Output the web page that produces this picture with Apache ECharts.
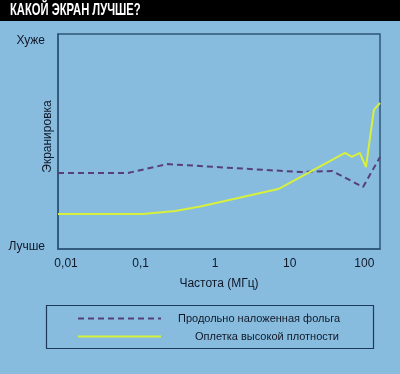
<!DOCTYPE html>
<html><head><meta charset="utf-8">
<script src="https://cdn.jsdelivr.net/npm/echarts@6/dist/echarts.min.js"></script>
<style>html,body{margin:0;padding:0;background:#88BCDF;}#c{width:400px;height:374px;}</style>
</head><body><div id="c"></div>
<script>
const titleText = 'КАКОЙ ЭКРАН ЛУЧШЕ?';
const seriesNames = ['Продольно наложенная фольга', 'Оплетка высокой плотности'];
const xTickLabels = ['0,01', '0,1', '1', '10', '100']; // exponents -2..2
const yTickLabels = ['Лучше', 'Хуже'];
const xAxisName = 'Частота (МГц)';
const yAxisName = 'Экранировка';
// [frequency MHz, relative shielding level 0..100]
const foilData = [[0.0078,35.3],[0.066,35.3],[0.23,39.5],[2.9,37.2],[14,35.8],[37,36.3],[96,28.8],[162,42.8]];
const braidData = [[0.0078,16.3],[0.108,16.3],[0.29,17.7],[0.63,19.8],[7,27.9],[55,44.7],[68,42.8],[87,44.7],[105,38.1],[134,64.7],[162,67.9]];

const FONT = '"Liberation Sans",Arial,sans-serif';
const chart = echarts.init(document.getElementById('c'));
chart.setOption({
  backgroundColor: '#88BCDF',
  animation: false,
  grid: {left: 58, right: 20, top: 34, bottom: 125, show: true, borderColor: '#2E5678', borderWidth: 1.5,
         containLabel: false, outerBoundsMode: 'none'},
  xAxis: {
    type: 'log', min: 0.0078, max: 162, logBase: 10,
    axisLine: {show: true, lineStyle: {color: '#2E5678', width: 1.5}},
    axisTick: {show: false}, splitLine: {show: false},
    axisLabel: {
      color: '#101828', fontFamily: FONT, fontSize: 12, margin: 9,
      showMinLabel: false, showMaxLabel: false,
      formatter: function (v) {
        const e = Math.log10(v), r = Math.round(e);
        if (Math.abs(e - r) > 0.01) return '';
        return xTickLabels[r + 2] || '';
      }
    },
    name: xAxisName, nameLocation: 'middle', nameGap: 29,
    nameTextStyle: {color: '#101828', fontFamily: FONT, fontSize: 12}
  },
  yAxis: {
    type: 'value', min: 0, max: 100, interval: 100,
    axisLine: {show: true, lineStyle: {color: '#2E5678', width: 1.5}},
    axisTick: {show: false}, splitLine: {show: false},
    axisLabel: {
      color: '#101828', fontFamily: FONT, fontSize: 12, margin: 13,
      formatter: function (v) { return v === 0 ? '{lo|' + yTickLabels[0] + '}' : '{hi|' + yTickLabels[1] + '}'; },
      rich: {
        lo: {color: '#101828', fontFamily: FONT, fontSize: 12, padding: [0, 0, 4, 0]},
        hi: {color: '#101828', fontFamily: FONT, fontSize: 12, padding: [13, 0, 0, 0]}
      }
    },
    name: yAxisName, nameLocation: 'middle', nameGap: 4, nameRotate: 90, nameMoveOverlap: false,
    nameTextStyle: {color: '#101828', fontFamily: FONT, fontSize: 12, padding: [0, 0, 0, 10]}
  },
  legend: [
    {data: [seriesNames[0]], left: 72, top: 308, itemWidth: 83, itemHeight: 14,
     itemStyle: {color: 'rgba(0,0,0,0)', borderWidth: 0},
     textStyle: {color: '#101828', fontFamily: FONT, fontSize: 11, padding: [0,0,0,12]}},
    {data: [seriesNames[1]], left: 72, top: 326, itemWidth: 83, itemHeight: 14,
     itemStyle: {color: 'rgba(0,0,0,0)', borderWidth: 0},
     textStyle: {color: '#101828', fontFamily: FONT, fontSize: 11, padding: [0,0,0,29]}}
  ],
  graphic: [
    {type: 'rect', left: 0, top: 0, shape: {width: 400, height: 21}, style: {fill: '#000'}},
    {type: 'text', x: 10, y: 2, scaleX: 0.66, style: {text: titleText, fill: '#fff', font: 'bold 17px ' + FONT}},
    {type: 'rect', shape: {x: 46.5, y: 305.5, width: 327, height: 43}, style: {fill: 'none', stroke: '#1E3A5A', lineWidth: 1.2}}
  ],
  series: [
    {name: seriesNames[0], type: 'line', data: foilData, symbol: 'none', smooth: false,
     lineStyle: {color: '#55407A', width: 2, type: [6, 4]}, itemStyle: {color: '#55407A'}},
    {name: seriesNames[1], type: 'line', data: braidData, symbol: 'none', smooth: false,
     lineStyle: {color: '#D6F03C', width: 2}, itemStyle: {color: '#D6F03C'}}
  ]
});
</script></body></html>
